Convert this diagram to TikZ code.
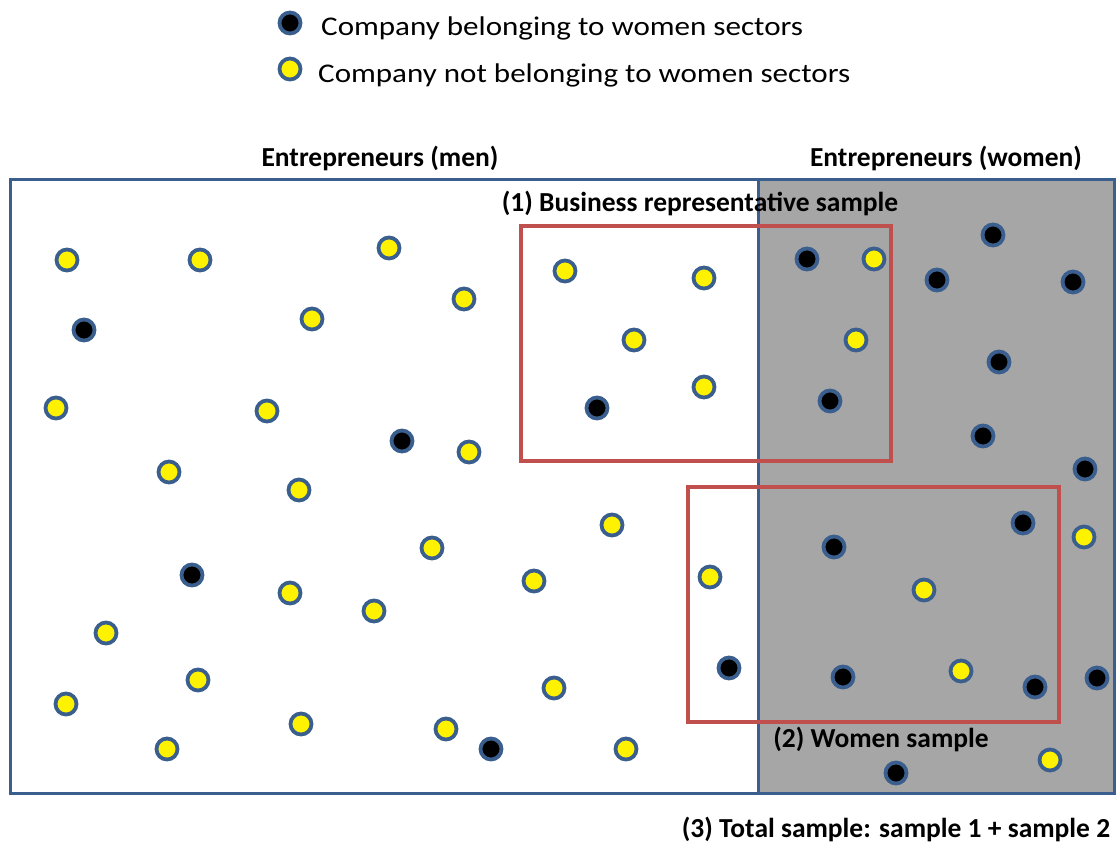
\documentclass[tikz,border=0pt]{standalone}
\usepackage{fontspec}
\setmainfont{Carlito}
\newfontfamily\legendfont[FakeStretch=1.15]{Carlito}
\usepackage{tikz}
\definecolor{edgeblue}{HTML}{3A5F8E}
\definecolor{samplered}{HTML}{C0504D}
\definecolor{womengray}{HTML}{A6A6A6}
\tikzset{
  firm/.style={draw=edgeblue, circle, line width=3.8pt, minimum size=21pt, inner sep=0pt},
  wfirm/.style={firm, fill=black},
  ofirm/.style={firm, fill=yellow},
  pop/.style={draw=edgeblue, line width=3pt},
  smp/.style={draw=samplered, line width=3.5pt},
  lbl/.style={anchor=base, inner sep=0pt, font=\fontsize{27.5}{33}\selectfont\bfseries},
  leg/.style={anchor=base west, inner sep=0pt, font=\legendfont\fontsize{27}{32}\selectfont},
}

\begin{document}
\begin{tikzpicture}[x=1pt, y=-1pt]
\useasboundingbox (0,0) rectangle (1116,846);
% legend
\node[wfirm] (kw) at (290,23) {};
\node[ofirm] (ko) at (290,69) {};
\node[leg] (tw) at (321,35) {Company belonging to women sectors};
\node[leg] (to) at (318,82) {Company not belonging to women sectors};
% population
\fill[womengray] (758,179) rectangle (1114,793);
\draw[pop] (10,179) rectangle (1114,793);
\draw[pop] (758,179) -- (758,793);
\draw[smp] (521,226) rectangle (891,461);
\draw[smp] (688,487) rectangle (1059,722);
% firms
\foreach \x/\y [count=\i] in {84/330, 402/441, 192/575, 491/749, 597/408, 807/259, 993/235,
  937/280, 1073/282, 999/362, 830/401, 983/436, 1085/469, 1023/523, 834/547, 729/668,
  843/677, 1035/687, 1097/678, 896/773}
  \node[wfirm] (s\i) at (\x,\y) {};
\foreach \x/\y [count=\i] in {67/260, 200/260, 389/248, 464/299, 312/319, 56/408, 267/411,
  469/452, 169/472, 299/490, 612/525, 432/548, 290/593, 374/611, 534/581, 106/633, 198/680,
  554/688, 66/704, 301/724, 446/729, 167/749, 626/749, 565/271, 704/278, 634/340, 704/387,
  874/259, 856/340, 1084/537, 710/577, 924/590, 961/671, 1050/760}
  \node[ofirm] (o\i) at (\x,\y) {};
% labels
\node[lbl] (men) at (380,166) {Entrepreneurs (men)};
\node[lbl] (women) at (946,166) {Entrepreneurs (women)};
\node[lbl] (s1) at (700,211) {(1) Business representative sample};
\node[lbl] (s2) at (881,747) {(2) Women sample};
\node[lbl] (s3) at (896,837) {(3) Total sample: sample 1 + sample 2};
\end{tikzpicture}
\end{document}
